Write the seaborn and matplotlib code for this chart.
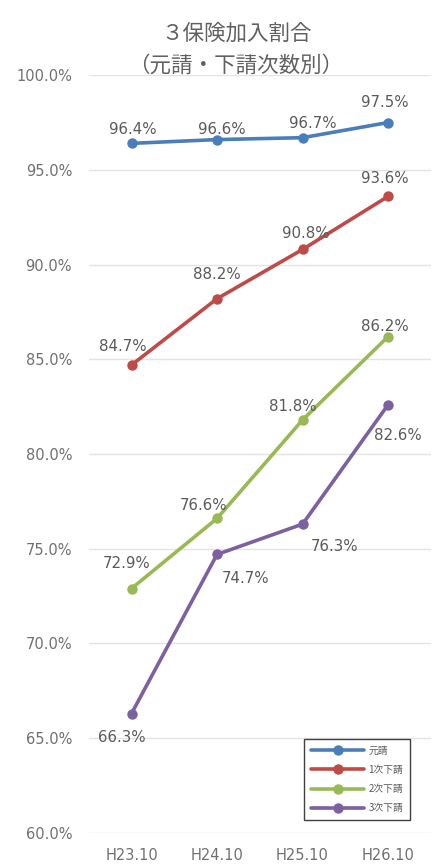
import matplotlib
matplotlib.use("Agg")
import matplotlib.pyplot as plt
import seaborn as sns
import pandas as pd

years = ["H23.10", "H24.10", "H25.10", "H26.10"]
series_names = ["元請", "1次下請", "2次下請", "3次下請"]
motouke = [96.4, 96.6, 96.7, 97.5]
shita1 = [84.7, 88.2, 90.8, 93.6]
shita2 = [72.9, 76.6, 81.8, 86.2]
shita3 = [66.3, 74.7, 76.3, 82.6]
colors = ["#4A7EBB", "#BE4B48", "#98B954", "#7D60A0"]
yticks = [60, 65, 70, 75, 80, 85, 90, 95, 100]
title_line1 = "３保険加入割合"
title_line2 = "（元請・下請次数別）"

values = [motouke, shita1, shita2, shita3]
rows = []
for name, vals in zip(series_names, values):
    for y, v in zip(years, vals):
        rows.append({"year": y, "series": name, "value": v})
df = pd.DataFrame(rows)

sns.set_theme(style="white")
plt.rcParams["font.family"] = ["DejaVu Sans", "Noto Sans CJK JP"]

fig = plt.figure(figsize=(4.33, 8.64), dpi=100)
ax = fig.add_axes([0.205, 0.036, 0.79, 0.877])

sns.lineplot(data=df, x="year", y="value", hue="series", hue_order=series_names,
             palette=colors, marker="o", markersize=7.5, linewidth=2.6,
             markeredgewidth=0, sort=False, ax=ax)

ax.set_xlim(-0.5, 3.5)
ax.set_ylim(60, 100)
ax.set_yticks(yticks)
ax.set_yticklabels([f"{t:.1f}%" for t in yticks])
ax.set_xlabel("")
ax.set_ylabel("")
for s in ax.spines.values():
    s.set_visible(False)
ax.yaxis.grid(True, color="#E3E3E3", linewidth=1)
ax.set_axisbelow(True)
ax.tick_params(axis="y", length=0, labelsize=10.5, labelcolor="#707070", pad=12)
ax.tick_params(axis="x", length=0, labelsize=10.5, labelcolor="#707070", pad=11)

# label offsets in pixels (dx, dy) per series and point
offsets = [
    [(1, 14), (5, 10), (10, 14), (-3, 20)],
    [(-9, 18), (0, 24), (3, 16), (-3, 18)],
    [(-5, 25), (-13, 13), (-10, 13), (-3, 10)],
    [(-10, -24), (29, -24), (32, -22), (10, -31)],
]
for si, vals in enumerate(values):
    for xi, v in enumerate(vals):
        dx, dy = offsets[si][xi]
        ax.annotate(f"{v:.1f}%", xy=(xi, v), xytext=(dx, dy),
                    textcoords="offset pixels", ha="center", va="center",
                    fontsize=10.8, color="#5A5A5A")

cjk = ["Noto Sans CJK JP", "DejaVu Sans"]
fig.text(237 / 433, 1 - 34 / 864, title_line1, ha="center", va="center",
         fontsize=15.5, color="#606060", family=cjk)
fig.text(236 / 433, 1 - 66 / 864, title_line2, ha="center", va="center",
         fontsize=15.5, color="#606060", family=cjk)

handles, labels = ax.get_legend_handles_labels()
leg = ax.legend(handles, labels, loc="lower right", bbox_to_anchor=(0.953, 0.0106),
                frameon=True, fancybox=False, edgecolor="#404040", framealpha=1,
                prop={"family": cjk, "size": 7},
                handlelength=5.5, labelspacing=0.95, borderpad=0.7,
                handletextpad=0.4, labelcolor="#595959")
leg.get_frame().set_linewidth(1.0)

fig.savefig("out.png", dpi=100)
